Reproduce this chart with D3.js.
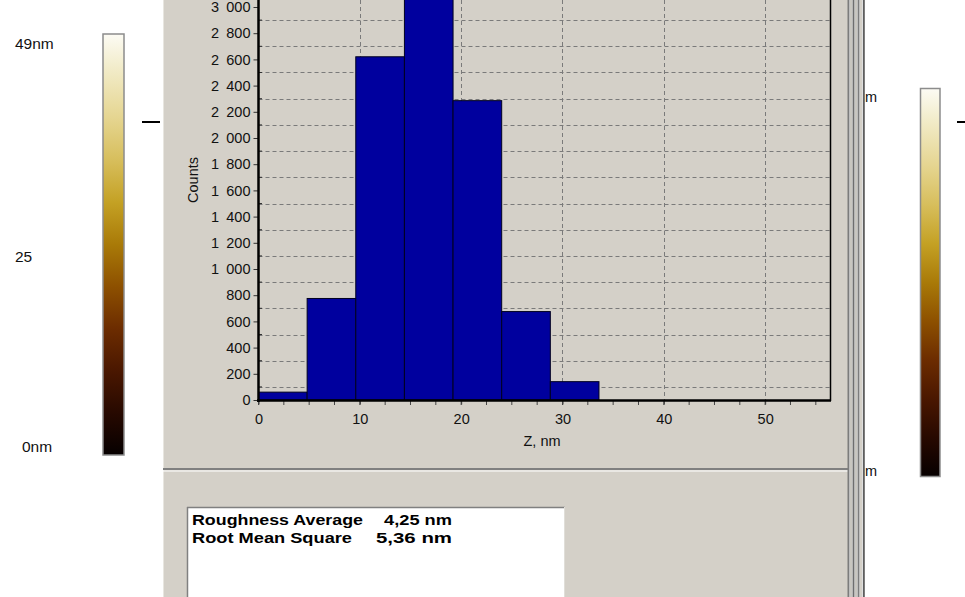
<!DOCTYPE html>
<html><head><meta charset="utf-8">
<script src="https://cdn.jsdelivr.net/npm/d3@7/dist/d3.min.js"></script>
<style>
html,body{margin:0;padding:0;background:#fff;overflow:hidden}
svg{display:block;font-family:Arial,"Liberation Sans",sans-serif}
</style></head>
<body>
<svg id="c" width="965" height="597"></svg>
<script>
// ---- data ----
const binWidth = 4.8;
const binStarts = [0, 4.8, 9.6, 14.4, 19.2, 24.0, 28.8, 33.6, 38.4, 43.2];
const counts    = [60, 775, 2620, 3300, 2285, 675, 140, 0, 0, 0];
const yTicks = [0,200,400,600,800,1000,1200,1400,1600,1800,2000,2200,2400,2600,2800,3000];
const yGrid  = [100,300,500,700,900,1100,1300,1500,1700,1900,2100,2300,2500,2700,2900];
const xTicks = [0,10,20,30,40,50];
const xMinor = [0,2.5,5,7.5,10,12.5,15,17.5,20,22.5,25,27.5,30,32.5,35,37.5,40,42.5,45,47.5,50,52.5,55];
const xGrid  = [10,20,30,40,50];
const colorbarLabels = ["49nm","25","0nm"];
const statNames  = ["Roughness Average","Root Mean Square"];
const statValues = ["4,25 nm","5,36 nm"];
const yTitle = "Counts", xTitle = "Z, nm";

const svg = d3.select("#c");
const panel = "#d4d0c8";

// backgrounds
svg.append("rect").attr("x",0).attr("y",0).attr("width",965).attr("height",597).attr("fill","#fff");
svg.append("rect").attr("x",163).attr("y",0).attr("width",685).attr("height",597).attr("fill",panel);
svg.append("line").attr("x1",163.5).attr("x2",163.5).attr("y1",0).attr("y2",597).attr("stroke","#e8e6e0").attr("stroke-width",1);
// separator between chart panel and stats panel
svg.append("line").attr("x1",163).attr("x2",849).attr("y1",469).attr("y2",469).attr("stroke","#808080").attr("stroke-width",2);
svg.append("line").attr("x1",163).attr("x2",849).attr("y1",471).attr("y2",471).attr("stroke","#ffffff").attr("stroke-width",1);

// window frame stripes on the right
const stripes = [[848.5,"#7c7c7c",2],[851,"#c8c6c0",2],[853.5,"#6e6e6e",2],[856,"#c8c6c0",2],[858.5,"#7c7c7c",2],[861,"#d4d0c8",2],[863.8,"#5e5e5e",2]];
stripes.forEach(s=>svg.append("line").attr("x1",s[0]).attr("x2",s[0]).attr("y1",0).attr("y2",597).attr("stroke",s[1]).attr("stroke-width",s[2]));

// scales
const x = d3.scaleLinear().domain([0,56.4]).range([258.5,830]);
const y = d3.scaleLinear().domain([0,3000]).range([400,7]);

// gridlines
const g = svg.append("g");
g.selectAll(".hg").data(yGrid).join("line")
  .attr("x1",x(0)).attr("x2",x(56.4)).attr("y1",d=>Math.round(y(d))+0.5).attr("y2",d=>Math.round(y(d))+0.5)
  .attr("stroke","#7a7a7a").attr("stroke-width",1).attr("stroke-dasharray","4,3");
g.selectAll(".vg").data(xGrid).join("line")
  .attr("x1",d=>Math.round(x(d))+0.5).attr("x2",d=>Math.round(x(d))+0.5).attr("y1",0).attr("y2",400)
  .attr("stroke","#7a7a7a").attr("stroke-width",1).attr("stroke-dasharray","4,3");

// bars
svg.append("g").selectAll("rect").data(binStarts.map((s,i)=>({s,v:counts[i]})).filter(d=>d.v>0)).join("rect")
  .attr("x",d=>x(d.s)).attr("width",d=>x(d.s+binWidth)-x(d.s))
  .attr("y",d=>y(d.v)).attr("height",d=>y(0)-y(d.v))
  .attr("fill","#00009e").attr("stroke","#000020").attr("stroke-width",1);

// axes
const yAxis = d3.axisLeft(y).tickValues(yTicks).tickSize(5).tickPadding(3)
  .tickFormat(d=>d>=1000 ? Math.floor(d/1000)+"\u2002"+String(d%1000).padStart(3,"0") : String(d));
const ya = svg.append("g").attr("transform","translate(258.5,0)").call(yAxis);
ya.attr("font-size",null);
ya.select(".domain").remove();
ya.selectAll("line").attr("stroke","#333");
ya.selectAll("text").style("font-size","14.5px").attr("fill","#111");
// minor y ticks inside
svg.append("g").selectAll("line").data(yGrid).join("line")
  .attr("x1",259).attr("x2",262).attr("y1",d=>y(d)).attr("y2",d=>y(d)).attr("stroke","#333");

const xAxis = d3.axisBottom(x).tickValues(xTicks).tickSize(4).tickPadding(9).tickFormat(d3.format("d"));
const xa = svg.append("g").attr("transform","translate(0,400.5)").call(xAxis);
xa.attr("font-size",null);
xa.select(".domain").remove();
xa.selectAll("line").attr("stroke","#333");
xa.selectAll("text").style("font-size","14.5px").attr("fill","#111");
svg.append("g").selectAll("line").data(xMinor).join("line")
  .attr("x1",d=>x(d)).attr("x2",d=>x(d)).attr("y1",401).attr("y2",405).attr("stroke","#444");

// axis lines / frame
svg.append("line").attr("x1",258.5).attr("x2",258.5).attr("y1",0).attr("y2",402).attr("stroke","#000").attr("stroke-width",2.5);
svg.append("line").attr("x1",257).attr("x2",831).attr("y1",400.5).attr("y2",400.5).attr("stroke","#000").attr("stroke-width",2.5);
svg.append("line").attr("x1",830.5).attr("x2",830.5).attr("y1",0).attr("y2",401).attr("stroke","#000").attr("stroke-width",1.5);

// axis titles
svg.append("text").attr("transform","translate(198,180) rotate(-90)").attr("text-anchor","middle")
  .style("font-size","14.5px").attr("fill","#111").text(yTitle);
svg.append("text").attr("x",542).attr("y",446).attr("text-anchor","middle")
  .style("font-size","14.5px").attr("fill","#111").text(xTitle);

// stats box
svg.append("rect").attr("x",187).attr("y",507).attr("width",378).attr("height",100).attr("fill","#fff");
svg.append("line").attr("x1",187).attr("x2",565).attr("y1",507.5).attr("y2",507.5).attr("stroke","#808080").attr("stroke-width",1.5);
svg.append("line").attr("x1",187.5).attr("x2",187.5).attr("y1",507).attr("y2",597).attr("stroke","#808080").attr("stroke-width",1.5);
svg.append("line").attr("x1",564.5).attr("x2",564.5).attr("y1",507).attr("y2",597).attr("stroke","#e0ded8").attr("stroke-width",1);
const nameLen = [171,160], valStart = [384,376], valLen = [68,76], base = [525,543];
statNames.forEach((n,i)=>{
  svg.append("text").attr("x",192).attr("y",base[i]).style("font-size","15px").attr("font-weight","bold")
    .attr("textLength",nameLen[i]).attr("lengthAdjust","spacingAndGlyphs").attr("fill","#000").text(n);
  svg.append("text").attr("x",valStart[i]).attr("y",base[i]).style("font-size","15px").attr("font-weight","bold")
    .attr("textLength",valLen[i]).attr("lengthAdjust","spacingAndGlyphs").attr("fill","#000").text(statValues[i]);
});

// colour bars
const defs = svg.append("defs");
const stops = [[0,"#fcfbf4"],[0.08,"#f2ecca"],[0.2,"#e5d590"],[0.3,"#d7be5c"],[0.4,"#c4a124"],[0.5,"#a97a08"],
  [0.6,"#8d5000"],[0.7,"#6c2c00"],[0.8,"#4a1700"],[0.9,"#270900"],[1,"#060000"]];
const lg = defs.append("linearGradient").attr("id","cb").attr("x1",0).attr("x2",0).attr("y1",0).attr("y2",1);
lg.selectAll("stop").data(stops).join("stop").attr("offset",d=>d[0]).attr("stop-color",d=>d[1]);
function colorbar(x0,y0,w,h){
  svg.append("rect").attr("x",x0).attr("y",y0).attr("width",w).attr("height",h).attr("fill","url(#cb)")
    .attr("stroke","#8c8c8c").attr("stroke-width",1.5);
}
colorbar(103,34,21,421);
colorbar(920.5,88.5,19.5,388);

const cbY = [49,262,452], cbX = [15,15,22];
colorbarLabels.forEach((t,i)=>svg.append("text").attr("x",cbX[i]).attr("y",cbY[i]).style("font-size","15.5px")
  .attr("fill","#111").text(t));

// small dashes
svg.append("line").attr("x1",142).attr("x2",160).attr("y1",122).attr("y2",122).attr("stroke","#000").attr("stroke-width",2);
svg.append("line").attr("x1",957).attr("x2",965).attr("y1",122).attr("y2",122).attr("stroke","#000").attr("stroke-width",2);

// partially hidden labels on the right
svg.append("text").attr("x",865).attr("y",102).style("font-size","14.5px").attr("fill","#111").text("m");
svg.append("text").attr("x",865).attr("y",476).style("font-size","14.5px").attr("fill","#111").text("m");
</script>
</body></html>
